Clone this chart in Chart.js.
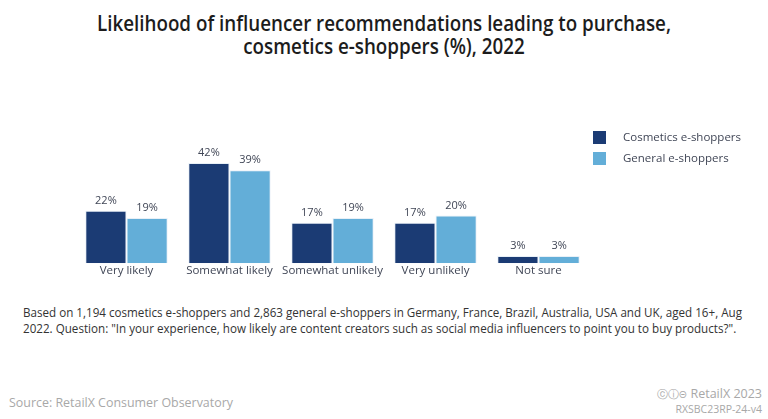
<!DOCTYPE html>
<html>
<head>
<meta charset="utf-8">
<script src="https://cdn.jsdelivr.net/npm/chart.js@4.4.1/dist/chart.umd.min.js"></script>
<style>
  body { margin: 0; background: #fff; font-family: "Open Sans", sans-serif; }
  #page { position: relative; width: 768px; height: 419px; overflow: hidden; background: #fff; }
  .line { position: absolute; white-space: nowrap; }
  #title span { display: block; white-space: nowrap; }
  #myChart { position: absolute; left: 0; top: 120px; }
  .legendItem { position: absolute; left: 593px; height: 13px; }
  .legendBox { position: absolute; left: 0; top: 0; width: 13px; height: 13px; }
  .legendText { position: absolute; left: 30px; top: -3px; font-size: 11.5px; line-height: 18px; color: #404656; white-space: nowrap; }
</style>
</head>
<body>
<div id="page">
  <div id="title" class="line" style="left:0; top:12px; width:768px; text-align:center; font-weight:600; font-size:21px; line-height:23px; color:#1c1c1c;">
    <span id="title1">Likelihood of influencer recommendations leading to purchase,</span>
    <span id="title2">cosmetics e-shoppers (%), 2022</span>
  </div>

  <canvas id="myChart" width="768" height="170"></canvas>
  <div id="legend"></div>

  <div id="note1" class="line" style="left:23px; top:303px; font-size:13px; color:#333;">Based on 1,194 cosmetics e-shoppers and 2,863 general e-shoppers in Germany, France, Brazil, Australia, USA and UK, aged 16+, Aug</div>
  <div id="note2" class="line" style="left:23px; top:319px; font-size:13px; color:#333;">2022. Question: "In your experience, how likely are content creators such as social media influencers to point you to buy products?".</div>

  <div id="source" class="line" style="left:9px; top:393px; font-size:13px; color:#a8a8a8;">Source: RetailX Consumer Observatory</div>
  <div id="credit" class="line" style="right:6px; top:385px; font-size:12.5px; color:#a8a8a8; font-family:'DejaVu Sans Condensed','Open Sans',sans-serif;"><span style="font-size:11px;">&#9426;&#9432;&#8861;</span> <span style="font-family:'Open Sans';">RetailX 2023</span></div>
  <div id="code" class="line" style="right:6px; top:402px; font-size:10.5px; color:#a8a8a8;">RXSBC23RP-24-v4</div>
</div>

<script>
const categories = ["Very likely", "Somewhat likely", "Somewhat unlikely", "Very unlikely", "Not sure"];
const seriesNames = ["Cosmetics e-shoppers", "General e-shoppers"];
const cosmeticsValues = [22, 42, 17, 17, 3];
const generalValues = [19, 39, 19, 20, 3];
const seriesColors = ["#1b3b74", "#63aed8"];

const textColor = "#404656";

// squeeze a line of html text to the width it has in the picture
function fitWidth(id, targetWidth, origin) {
  let el = document.getElementById(id);
  el.style.display = "inline-block";
  let w = el.getBoundingClientRect().width;
  el.style.transformOrigin = origin;
  el.style.transform = "scaleX(" + targetWidth / w + ")";
  return targetWidth / w;
}

function fitText() {
  let t1 = document.getElementById("title1");
  let t2 = document.getElementById("title2");
  t1.style.display = "inline-block";
  let s = 574 / t1.getBoundingClientRect().width;
  t1.style.display = "block";
  t1.style.transform = "scaleX(" + s + ")";
  t2.style.transform = "scaleX(" + s + ")";

  let n = fitWidth("note1", 719, "left center");
  let n2 = document.getElementById("note2");
  n2.style.transformOrigin = "left center";
  n2.style.transform = "scaleX(" + n + ")";

  fitWidth("source", 224, "left center");
}

function buildLegend() {
  let legend = document.getElementById("legend");
  seriesNames.forEach((name, i) => {
    let item = document.createElement("div");
    item.className = "legendItem";
    item.style.top = 131 + i * 21 + "px";
    item.innerHTML =
      '<div class="legendBox" style="background:' + seriesColors[i] + '"></div>' +
      '<div class="legendText">' + name + "</div>";
    legend.appendChild(item);
  });
}

const barLabels = {
  id: "barLabels",
  afterDatasetsDraw(chart) {
    let ctx = chart.ctx;
    ctx.save();
    ctx.font = "11px 'Open Sans'";
    ctx.fillStyle = textColor;
    ctx.textAlign = "center";
    ctx.textBaseline = "alphabetic";
    chart.data.datasets.forEach((ds, i) => {
      chart.getDatasetMeta(i).data.forEach((bar, j) => {
        ctx.fillText(ds.data[j] + "%", bar.x, bar.y - 7);
      });
    });
    ctx.restore();
  },
};

function drawChart() {
  let datasets = [cosmeticsValues, generalValues].map((values, i) => ({
    label: seriesNames[i],
    data: values,
    backgroundColor: seriesColors[i],
    borderColor: "rgba(230,238,246,0.9)",
    borderWidth: 1,
    barPercentage: 1,
    categoryPercentage: 0.8,
  }));

  const config = {
    type: "bar",
    data: { labels: categories, datasets: datasets },
    options: {
      responsive: false,
      animation: false,
      layout: { padding: { left: 75, right: 178, top: 24, bottom: 11 } },
      plugins: {
        legend: { display: false },
        tooltip: { enabled: false },
      },
      scales: {
        x: {
          grid: { display: false, drawTicks: false },
          border: { display: false },
          ticks: {
            color: textColor,
            font: { family: "'Open Sans'", size: 11.5 },
            padding: 1,
            maxRotation: 0,
            autoSkip: false,
          },
        },
        y: { display: false, min: 0, max: 50 },
      },
    },
    plugins: [barLabels],
  };

  new Chart(document.getElementById("myChart"), config);
}

buildLegend();
fitText();
drawChart();
</script>
</body>
</html>
